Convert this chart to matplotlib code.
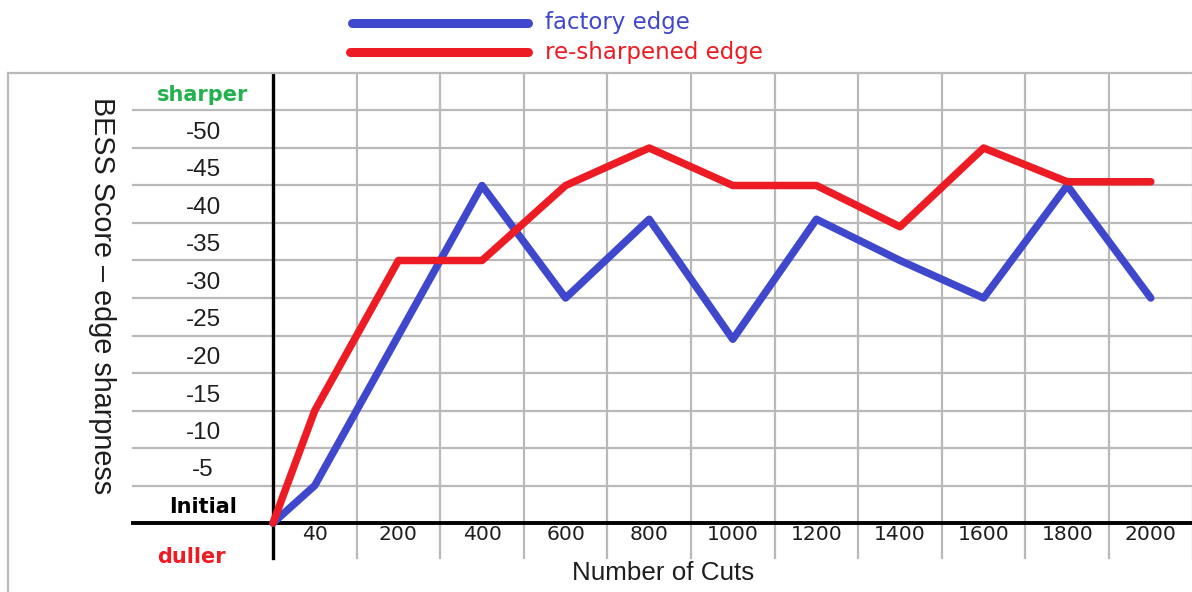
import matplotlib
matplotlib.use("Agg")
import matplotlib.pyplot as plt
from matplotlib.lines import Line2D

# data (BESS score, negative = sharper)
cuts = ['40', '200', '400', '600', '800', '1000', '1200', '1400', '1600', '1800', '2000']
factory = [0, -5, -25, -45, -30, -40.5, -24.5, -40.5, -35, -30, -45, -30]
resharp = [0, -15, -35, -35, -45, -50, -45, -45, -39.5, -50, -45.5, -45.5]
score_ticks = [-5, -10, -15, -20, -25, -30, -35, -40, -45, -50]

blue = '#3f48cc'
red = '#ed1c24'
green = '#22b14c'
grid = '#b9b9b9'

W, H = 1192, 592
fig = plt.figure(figsize=(W / 100, H / 100), dpi=100)

# pixel geometry of the original: y axis at x=273, 83.6 px per cut column,
# x axis at y=523, 7.5 px per score unit
x0, xs = 273, 83.6
y0, ys = 523, 7.5
left_px, right_px, top_px, bot_px = 8, 1200, 73, 600
ax = fig.add_axes([left_px / W, (H - bot_px) / H, (right_px - left_px) / W, (bot_px - top_px) / H])
ax.set_xlim((left_px - x0) / xs, (right_px - x0) / xs)
ax.set_ylim((bot_px - y0) / ys, -(y0 - top_px) / ys)
ax.set_xticks([])
ax.set_yticks([])
for s in ['right', 'bottom']:
    ax.spines[s].set_visible(False)
for s in ['left', 'top']:
    ax.spines[s].set_color(grid)
    ax.spines[s].set_linewidth(1.6)

xmin, xmax = ax.get_xlim()
ybot, ytop = ax.get_ylim()
grid_x0 = (133 - x0) / xs
tick_bottom = (558 - y0) / ys

# grid
for v in range(-5, -60, -5):
    ax.plot([grid_x0, xmax], [v, v], color=grid, lw=1.6, zorder=1)
for i in range(1, len(cuts) + 1):
    ax.plot([i, i], [tick_bottom, ytop], color=grid, lw=1.6, zorder=1)

# axes lines
ax.plot([0, 0], [tick_bottom, ytop], color='black', lw=2.4, zorder=2)
ax.plot([grid_x0, xmax], [0, 0], color='black', lw=2.8, zorder=2)

xpos = [0] + [i + 0.5 for i in range(len(cuts))]
ax.plot(xpos, factory, color=blue, lw=5.4, solid_capstyle='round', solid_joinstyle='round', zorder=3)
ax.plot(xpos, resharp, color=red, lw=5.4, solid_capstyle='round', solid_joinstyle='round', zorder=4)

# tick labels
for i, c in enumerate(cuts):
    ax.text(i + 0.5, (535 - y0) / ys, c, ha='center', va='center', fontsize=14.6,
            family='DejaVu Sans', color='#1e1e1e')
lab_x = (203 - x0) / xs
for v in score_ticks:
    ax.text(lab_x, v - 2, str(v), ha='center', va='center', fontsize=17.5,
            family='Liberation Sans', color='#1e1e1e')
ax.text(lab_x, -(y0 - 95) / ys, 'sharper', ha='center', va='center', fontsize=15,
        family='DejaVu Sans', weight='bold', color=green)
ax.text(lab_x, -(y0 - 507) / ys, 'Initial', ha='center', va='center', fontsize=15,
        family='DejaVu Sans', weight='bold', color='black')
ax.text((191 - x0) / xs, (557 - y0) / ys, 'duller', ha='center', va='center', fontsize=15,
        family='DejaVu Sans', weight='bold', color=red)

ax.text((663 - x0) / xs, (573 - y0) / ys, 'Number of Cuts', ha='center', va='center',
        fontsize=18.7, family='Liberation Sans', color='#1e1e1e')
ax.text((102 - x0) / xs, -(y0 - 296) / ys, 'BESS Score \u2013 edge sharpness', rotation=-90,
        ha='center', va='center', fontsize=20.7, family='Liberation Sans', color='#1e1e1e')

# legend on top
fig.add_artist(Line2D([352 / W, 528 / W], [1 - 23 / H, 1 - 23 / H], color=blue, lw=6.5,
                      solid_capstyle='round', transform=fig.transFigure))
fig.add_artist(Line2D([350 / W, 528 / W], [1 - 52 / H, 1 - 52 / H], color=red, lw=6.5,
                      solid_capstyle='round', transform=fig.transFigure))
fig.text(545 / W, 1 - 23 / H, 'factory edge', color=blue, fontsize=16.5, va='center',
         family='DejaVu Sans')
fig.text(545 / W, 1 - 52 / H, 're-sharpened edge', color=red, fontsize=16.5, va='center',
         family='DejaVu Sans')

fig.savefig('out.png', dpi=100)
